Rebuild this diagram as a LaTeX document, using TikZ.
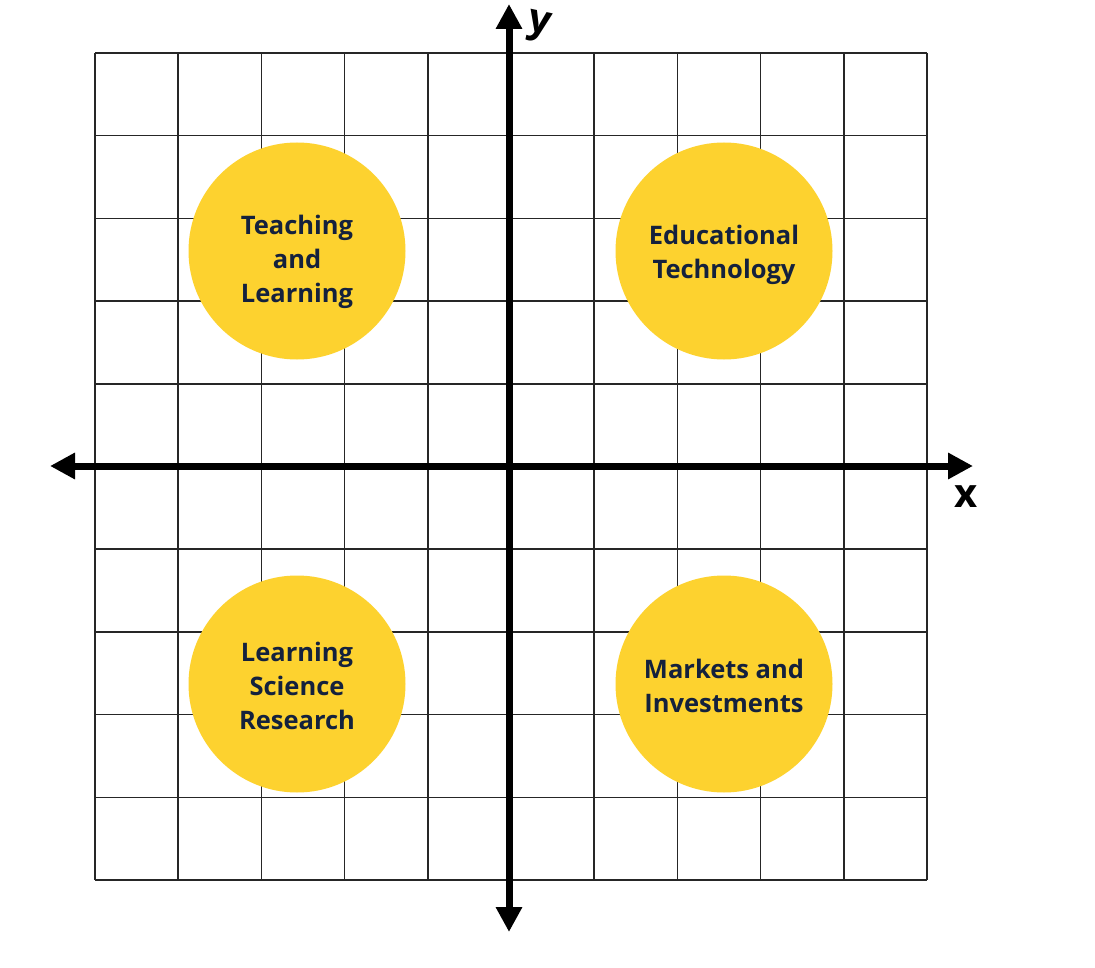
\documentclass[tikz,border=0pt]{standalone}
\usepackage{fontspec}
\setmainfont{Open Sans}
\usetikzlibrary{arrows.meta}
\definecolor{bubble}{HTML}{FDD22F}
\definecolor{navy}{HTML}{14213D}
\tikzset{
  gridline/.style={line width=1.5pt, draw=black!85},
  axis/.style={line width=7pt, -{Triangle[length=25pt,width=25pt]}, draw=black},
  bubblecirc/.style={circle, fill=bubble, minimum size=217pt, inner sep=0pt},
  lbl/.style={font=\fontsize{25.5pt}{34pt}\selectfont\bfseries, text=navy, align=center, inner sep=0pt},
  axlbl/.style={font=\fontsize{40pt}{40pt}\selectfont\bfseries, text=black, inner sep=0pt}
}
\begin{document}
\begin{tikzpicture}[x=1pt,y=-1pt]
\useasboundingbox (0,0) rectangle (1095,968);
\fill[white] (0,0) rectangle (1095,968);
% grid
\foreach \i in {0,...,10} {
  \draw[gridline] ({95+83.2*\i},53) -- ({95+83.2*\i},880);
  \draw[gridline] (95,{53+82.7*\i}) -- (927,{53+82.7*\i});
}
% bubbles
\node[bubblecirc] (tl) at (297,251) {};
\node[bubblecirc] (tr) at (724,251) {};
\node[bubblecirc] (bl) at (297,684) {};
\node[bubblecirc] (br) at (724,684) {};
% axes
\coordinate (xl) at (50,466);
\coordinate (xr) at (973,466);
\coordinate (yt) at (509,4);
\coordinate (yb) at (509,932);
\coordinate (o) at (509,466);
\draw[axis] (o) -- (xr);
\draw[axis] (o) -- (xl);
\draw[axis] (o) -- (yt);
\draw[axis] (o) -- (yb);
\node[axlbl, rotate=-12] (ylab) at (539,27) {y};
\node[axlbl] (xlab) at (966,497) {x};
% labels
\node[lbl] (tlt) at (297,262) {Teaching\\and\\Learning};
\node[lbl] (trt) at (724,255) {Educational\\Technology};
\node[lbl] (blt) at (297,686) {Learning\\Science\\Research};
\node[lbl] (brt) at (724,686) {Markets and\\Investments};
\end{tikzpicture}
\end{document}
